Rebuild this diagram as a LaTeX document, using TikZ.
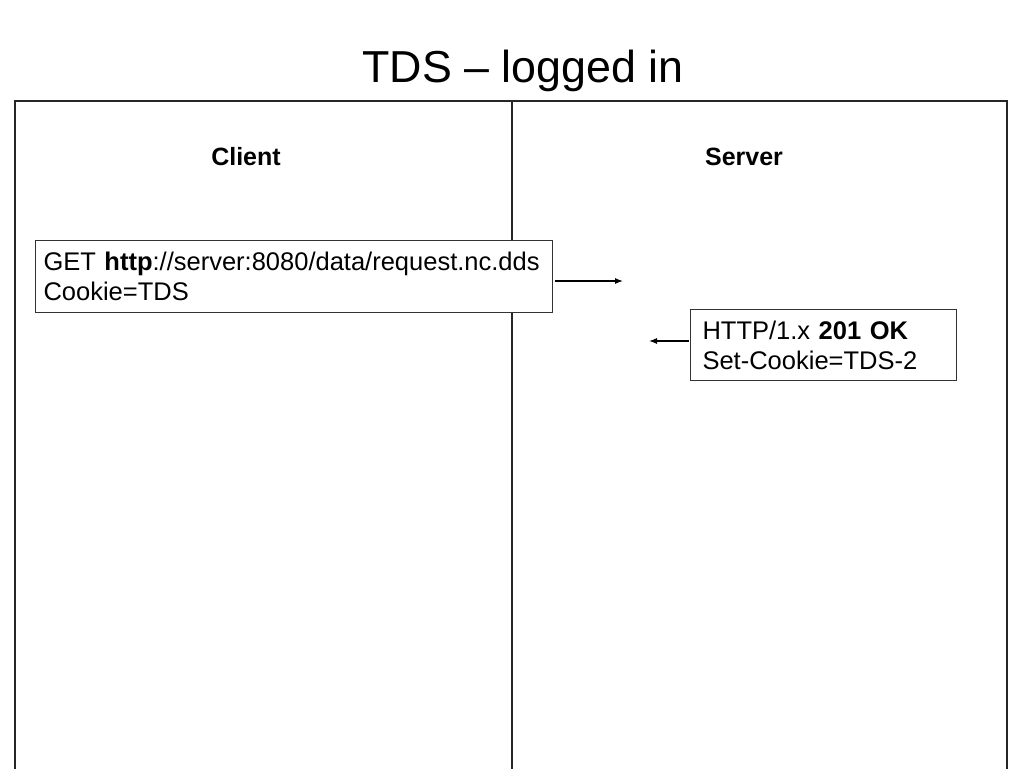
\documentclass[tikz,border=0pt]{standalone}
\usepackage{fontspec}
\setmainfont{Liberation Sans}
\usetikzlibrary{arrows.meta}
\begin{document}
\begin{tikzpicture}[x=1pt,y=-1pt,
  frame/.style={line width=1.1pt,black!85},
  msgbox/.style={draw=black!80,line width=1.1pt,fill=white,rectangle,anchor=north west,
    align=left,inner ysep=0pt,font=\fontsize{25.5}{30}\selectfont},
  head/.style={anchor=base,font=\fontsize{25}{30}\selectfont\bfseries},
  arr/.style={line width=1.1pt,-{Latex[length=8pt,width=6pt]}}]
\useasboundingbox[fill=white] (0,0) rectangle (1024,768);
\node[anchor=base,font=\fontsize{44.8}{54}\selectfont] (title) at (523,82) {TDS – logged in};
\coordinate (fbl) at (15,770);
\coordinate (ftl) at (15,101);
\coordinate (ftr) at (1007,101);
\coordinate (fbr) at (1007,770);
\coordinate (mtop) at (512,101);
\coordinate (mbot) at (512,770);
\draw[frame] (fbl) -- (ftl) -- (ftr) -- (fbr);
\draw[frame] (mtop) -- (mbot);
\node[head] (client) at (246,165) {Client};
\node[head] (server) at (744,165) {Server};
\node[msgbox,text width=501pt,inner xsep=8pt,minimum height=72pt] (req) at (35,240)
  {GET \textbf{http}://server:8080/data/request.nc.dds\\Cookie=TDS};
\node[msgbox,text width=242pt,inner xsep=12pt,minimum height=71pt] (resp) at (690,309)
  {HTTP/1.x \textbf{201 OK}\\Set-Cookie=TDS-2};
\coordinate (a1s) at (555,281);
\coordinate (a1e) at (623,281);
\coordinate (a2s) at (689,341);
\coordinate (a2e) at (649,341);
\draw[arr] (a1s) -- (a1e);
\draw[arr] (a2s) -- (a2e);
\end{tikzpicture}
\end{document}
